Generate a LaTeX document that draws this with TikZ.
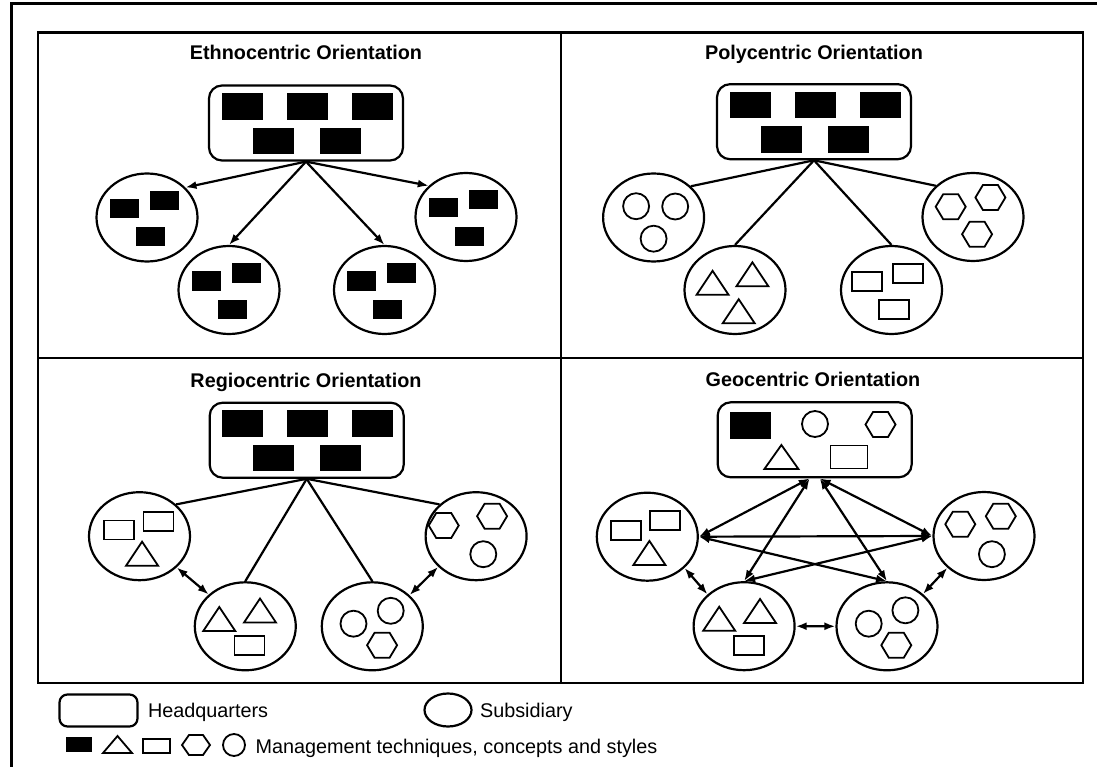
\documentclass[tikz,border=0pt]{standalone}
\usepackage{fontspec}
\setmainfont{Liberation Sans}
\usetikzlibrary{shapes.geometric,arrows.meta}

\begin{document}
\begin{tikzpicture}[x=1pt, y=-1pt, line width=2.2pt, font=\fontsize{19.8}{23}\selectfont,
		hq/.style = {draw, rounded corners=13pt, minimum width=194pt, minimum height=75pt, inner sep=0pt},
		sub/.style = {draw, ellipse, minimum width=101pt, minimum height=88pt, inner sep=0pt},
		title/.style = {font=\fontsize{19.8}{23}\selectfont\bfseries, anchor=base, inner sep=0pt},
		legtext/.style = {anchor=base west, inner sep=0pt},
		arr/.style = {-{Latex[length=11pt,width=8pt]}},
		dbl/.style = {{Latex[length=11pt,width=8pt]}-{Latex[length=11pt,width=8pt]}},
		pics/bigblk/.style = {code={\fill (-20.5,-13.25) rectangle (20.5,13.25);}},
		pics/blk/.style = {code={\fill (-14.5,-9.5) rectangle (14.5,9.5);}},
		pics/box/.style = {code={\draw[line width=1.8pt] (-15,-9.5) rectangle (15,9.5);}},
		pics/bigbox/.style = {code={\draw[line width=1.8pt] (-18.5,-11.5) rectangle (18.5,11.5);}},
		pics/ring/.style = {code={\draw[line width=1.8pt] (0,0) circle (13pt);}},
		pics/tri/.style = {code={\draw[line width=1.8pt] (-16,12) -- (16,12) -- (0,-12) -- cycle;}},
		pics/bigtri/.style = {code={\draw[line width=1.8pt] (-17,12) -- (17,12) -- (0,-12) -- cycle;}},
		pics/hexa/.style = {code={\draw[line width=1.8pt] (-15,0) -- (-7.5,-12.5) -- (7.5,-12.5) -- (15,0) -- (7.5,12.5) -- (-7.5,12.5) -- cycle;}}]
		\useasboundingbox (0,0) rectangle (1097,767);
		\draw[line width=3pt] (11,767) -- (11,4) -- (1097,4);
		\draw (38,32.5) rectangle (1083,683);
		\draw (561,32.5) -- (561,683);
		\draw (38,358) -- (1083,358);
		
		\node[title] (t1) at (306,60) {Ethnocentric Orientation};
		\node[title] (t2) at (814,60) {Polycentric Orientation};
		\node[title] (t3) at (306,387) {Regiocentric Orientation};
		\node[title] (t4) at (813,386) {Geocentric Orientation};
		
		\node[hq] (e0) at (306,123) {};
		\node[sub] (e1) at (147,217.5) {};
		\node[sub] (e2) at (229,290) {};
		\node[sub] (e3) at (384.5,290) {};
		\node[sub] (e4) at (466,217) {};
		\pic at ([shift={(-64,-16.5)}]e0) {bigblk};
		\pic at ([shift={(1,-16.5)}]e0) {bigblk};
		\pic at ([shift={(66,-16.5)}]e0) {bigblk};
		\pic at ([shift={(-33,18)}]e0) {bigblk};
		\pic at ([shift={(34,18)}]e0) {bigblk};
		\pic at ([shift={(-23,-9)}]e1) {blk};
		\pic at ([shift={(17,-17)}]e1) {blk};
		\pic at ([shift={(3,19.5)}]e1) {blk};
		\pic at ([shift={(-23,-9)}]e2) {blk};
		\pic at ([shift={(17,-17)}]e2) {blk};
		\pic at ([shift={(3,19.5)}]e2) {blk};
		\pic at ([shift={(-23,-9)}]e3) {blk};
		\pic at ([shift={(17,-17)}]e3) {blk};
		\pic at ([shift={(3,19.5)}]e3) {blk};
		\pic at ([shift={(-23,-9)}]e4) {blk};
		\pic at ([shift={(17,-17)}]e4) {blk};
		\pic at ([shift={(3,19.5)}]e4) {blk};
		\draw[arr] (e0.south) -- (e1.38);
		\draw[arr] (e0.south) -- (e2.north);
		\draw[arr] (e0.south) -- (e3.north);
		\draw[arr] (e0.south) -- (e4.140);
		
		\node[hq] (p0) at (814,121.7) {};
		\node[sub] (p1) at (653.6,217.5) {};
		\node[sub] (p2) at (735,290) {};
		\node[sub] (p3) at (891.5,290) {};
		\node[sub] (p4) at (973,217) {};
		\pic at ([shift={(-64,-16.5)}]p0) {bigblk};
		\pic at ([shift={(1,-16.5)}]p0) {bigblk};
		\pic at ([shift={(66,-16.5)}]p0) {bigblk};
		\pic at ([shift={(-33,18)}]p0) {bigblk};
		\pic at ([shift={(34,18)}]p0) {bigblk};
		\pic at ([shift={(-17.5,-11.3)}]p1) {ring};
		\pic at ([shift={(21.6,-11)}]p1) {ring};
		\pic at ([shift={(0,21.2)}]p1) {ring};
		\pic at ([shift={(-22.4,-7.2)}]p2) {tri};
		\pic at ([shift={(17.4,-15.7)}]p2) {tri};
		\pic at ([shift={(3.7,21.2)}]p2) {tri};
		\pic at ([shift={(-24.3,-8.8)}]p3) {box};
		\pic at ([shift={(16.6,-16.7)}]p3) {box};
		\pic at ([shift={(2.7,19.7)}]p3) {box};
		\pic at ([shift={(-22.3,-10.3)}]p4) {hexa};
		\pic at ([shift={(17.4,-19.5)}]p4) {hexa};
		\pic at ([shift={(4.1,17.2)}]p4) {hexa};
		\draw (p0.south) -- (p1.40);
		\draw (p0.south) -- (p2.north);
		\draw (p0.south) -- (p3.north);
		\draw (p0.south) -- (p4.140);
		
		\node[hq] (r0) at (306.7,440.2) {};
		\node[sub] (r1) at (139.5,536.2) {};
		\node[sub] (r2) at (245.3,626.3) {};
		\node[sub] (r3) at (372.3,626.3) {};
		\node[sub] (r4) at (476.1,536.2) {};
		\pic at ([shift={(-64,-16.5)}]r0) {bigblk};
		\pic at ([shift={(1,-16.5)}]r0) {bigblk};
		\pic at ([shift={(66,-16.5)}]r0) {bigblk};
		\pic at ([shift={(-33,18)}]r0) {bigblk};
		\pic at ([shift={(34,18)}]r0) {bigblk};
		\pic at ([shift={(-20.7,-6.2)}]r1) {box};
		\pic at ([shift={(18.9,-14.5)}]r1) {box};
		\pic at ([shift={(2.6,17.5)}]r1) {tri};
		\pic at ([shift={(-26,-7.3)}]r2) {tri};
		\pic at ([shift={(14.7,-15.8)}]r2) {tri};
		\pic at ([shift={(4.2,19.5)}]r2) {box};
		\pic at ([shift={(-18.8,-2.6)}]r3) {ring};
		\pic at ([shift={(18.4,-15.5)}]r3) {ring};
		\pic at ([shift={(9.8,18.9)}]r3) {hexa};
		\pic at ([shift={(-32.4,-10.7)}]r4) {hexa};
		\pic at ([shift={(16,-20)}]r4) {hexa};
		\pic at ([shift={(7.2,18)}]r4) {ring};
		\draw (r0.south) -- (r1.41);
		\draw (r0.south) -- (r2.north);
		\draw (r0.south) -- (r3.north);
		\draw (r0.south) -- (r4.139);
		\draw[dbl] (r1.-40) -- (r2.139);
		\draw[dbl] (r3.40) -- (r4.-141);
		
		\node[hq] (g0) at (814.7,439.8) {};
		\node[sub] (g1) at (647.3,536.7) {};
		\node[sub] (g2) at (744.1,626.2) {};
		\node[sub] (g3) at (887,626.3) {};
		\node[sub] (g4) at (984,536) {};
		\pic at ([shift={(-64.6,-14.5)}]g0) {bigblk};
		\pic at ([shift={(0.3,-15.8)}]g0) {ring};
		\pic at ([shift={(65.8,-15.3)}]g0) {hexa};
		\pic at ([shift={(-33.3,17.2)}]g0) {bigtri};
		\pic at ([shift={(34.2,17.2)}]g0) {bigbox};
		\pic at ([shift={(-21.5,-6.5)}]g1) {box};
		\pic at ([shift={(17.7,-15.9)}]g1) {box};
		\pic at ([shift={(2.1,16.2)}]g1) {tri};
		\pic at ([shift={(-24.9,-7.5)}]g2) {tri};
		\pic at ([shift={(15.9,-15.2)}]g2) {tri};
		\pic at ([shift={(5.2,19.6)}]g2) {box};
		\pic at ([shift={(-18.3,-2.6)}]g3) {ring};
		\pic at ([shift={(18.4,-16)}]g3) {ring};
		\pic at ([shift={(9.3,18.9)}]g3) {hexa};
		\pic at ([shift={(-23.7,-11.8)}]g4) {hexa};
		\pic at ([shift={(16.8,-19.8)}]g4) {hexa};
		\pic at ([shift={(7.9,18.2)}]g4) {ring};
		\coordinate (g0l) at ([xshift=-5pt]g0.south);
		\coordinate (g0r) at ([xshift=5pt]g0.south);
		\draw[dbl] (g0l) -- (g1.east);
		\draw[dbl] (g0l) -- (g2.north);
		\draw[dbl] (g0r) -- (g3.north);
		\draw[dbl] (g0r) -- (g4.west);
		\draw[dbl] (g1.east) -- (g4.west);
		\draw[dbl] (g1.east) -- (g3.north);
		\draw[dbl] (g4.west) -- (g2.north);
		\draw[dbl] (g1.-40) -- (g2.139);
		\draw[dbl] (g2.east) -- (g3.west);
		\draw[dbl] (g3.42) -- (g4.-139);
		
		\node[hq, minimum width=78pt, minimum height=32pt, rounded corners=8pt] (lhq) at (98.5,710.5) {};
		\node[legtext] (lhqt) at (147,717) {Headquarters};
		\node[sub, minimum width=47pt, minimum height=33pt] (lsub) at (448,710) {};
		\node[legtext] (lsubt) at (479,717) {Subsidiary};
		\fill (66,737) rectangle (92,752);
		\draw[line width=1.8pt] (103,753) -- (132,753) -- (117.5,736) -- cycle;
		\draw[line width=1.8pt] (143,739) rectangle (170,753);
		\draw[line width=1.8pt] (182,745) -- (189,735) -- (203,735) -- (210,745) -- (203,755) -- (189,755) -- cycle;
		\draw[line width=1.8pt] (234,745) circle (11pt);
		\node[legtext] (lmgt) at (254.5,753) {Management techniques, concepts and styles};
	\end{tikzpicture}
\end{document}
